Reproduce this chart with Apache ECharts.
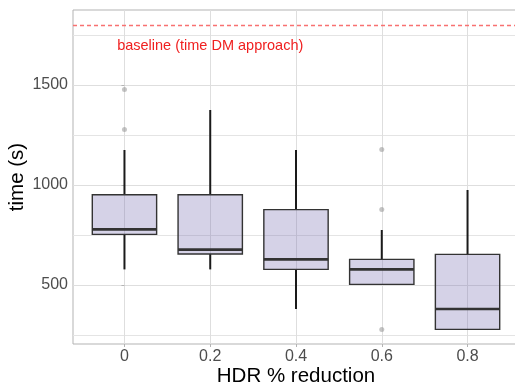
<!DOCTYPE html>
<html>
<head>
<meta charset="utf-8">
<script src="https://cdn.jsdelivr.net/npm/echarts@6/dist/echarts.min.js"></script>
<style>html,body{margin:0;padding:0;background:#fff}#c{width:515px;height:386px}</style>
</head>
<body>
<div id="c"></div>
<script>
const categories = ['0', '0.2', '0.4', '0.6', '0.8'];
// [min whisker, Q1, median, Q3, max whisker]
const boxStats = [
  [578, 753, 778, 951, 1175],
  [578, 655, 677, 951, 1375],
  [380, 578, 628, 877, 1175],
  [503, 503, 578, 628, 775],
  [278, 278, 380, 653, 975]
];
// [category index, value]
const outliers = [
  [0, 1478], [0, 1278],
  [3, 1178], [3, 878], [3, 278]
];
const baselineValue = 1800;
const baselineLabel = 'baseline (time DM approach)';
const baselineLabelPos = [1, 1695];
const yMajorTicks = [500, 1000, 1500];
const yMinorTicks = [250, 750, 1250, 1750];
const xTicks = [0, 1, 2, 3, 4];

const font = 'Liberation Sans, Arial, Helvetica, sans-serif';
const boxData = boxStats.map((s, i) => [i].concat(s));

const chart = echarts.init(document.getElementById('c'), null, {renderer: 'canvas'});
chart.setOption({
  animation: false,
  grid: {left: 73, top: 10, width: 446, height: 334, containLabel: false, outerBoundsMode: 'none', show: true, borderColor: '#b3b3b3', borderWidth: 1, backgroundColor: 'transparent'},
  xAxis: {
    type: 'value', min: -0.6, max: 4.6,
    name: 'HDR % reduction', nameLocation: 'middle', nameGap: 22, nameMoveOverlap: false,
    nameTextStyle: {fontFamily: font, fontSize: 20.5, color: '#000'},
    axisLine: {show: false},
    axisTick: {show: true, length: 3, customValues: xTicks, lineStyle: {color: '#b3b3b3'}},
    axisLabel: {customValues: xTicks, formatter: v => categories[Math.round(v)], fontFamily: font, fontSize: 16, color: '#4d4d4d', margin: 5},
    splitLine: {show: true, lineStyle: {color: '#dedede', width: 1}}
  },
  yAxis: [{
    type: 'value', min: 205, max: 1875,
    name: 'time (s)', nameLocation: 'middle', nameGap: 45, nameRotate: 90, nameMoveOverlap: false,
    nameTextStyle: {fontFamily: font, fontSize: 20.5, color: '#000'},
    axisLine: {show: false},
    axisTick: {show: true, length: 3, customValues: yMajorTicks, lineStyle: {color: '#b3b3b3'}},
    axisLabel: {customValues: yMajorTicks, formatter: v => String(v), fontFamily: font, fontSize: 16, color: '#4d4d4d', margin: 5},
    splitLine: {show: true, lineStyle: {color: '#dedede', width: 1}}
  }, {
    type: 'value', min: 205, max: 1875, position: 'left',
    axisLine: {show: false},
    axisTick: {show: false, customValues: yMinorTicks},
    axisLabel: {show: false, customValues: yMinorTicks},
    splitLine: {show: true, lineStyle: {color: '#e4e4e4', width: 1}}
  }],
  series: [{
    type: 'custom',
    data: boxData,
    z: 3,
    renderItem: function (params, api) {
      const x = api.value(0);
      const pMin = api.coord([x, api.value(1)]);
      const pQ1 = api.coord([x, api.value(2)]);
      const pMed = api.coord([x, api.value(3)]);
      const pQ3 = api.coord([x, api.value(4)]);
      const pMax = api.coord([x, api.value(5)]);
      const hw = api.size([0.75, 0])[0] / 2;
      return {
        type: 'group',
        children: [
          {type: 'line', shape: {x1: pMax[0], y1: pMax[1], x2: pQ3[0], y2: pQ3[1]}, style: {stroke: '#1a1a1a', lineWidth: 2}},
          {type: 'line', shape: {x1: pQ1[0], y1: pQ1[1], x2: pMin[0], y2: pMin[1]}, style: {stroke: '#1a1a1a', lineWidth: 2}},
          {type: 'rect', shape: {x: pQ3[0] - hw, y: pQ3[1], width: 2 * hw, height: pQ1[1] - pQ3[1]}, style: {fill: 'rgba(117,107,177,0.3)', stroke: '#333333', lineWidth: 1.4}},
          {type: 'line', shape: {x1: pMed[0] - hw, y1: pMed[1], x2: pMed[0] + hw, y2: pMed[1]}, style: {stroke: '#333333', lineWidth: 2.6}}
        ]
      };
    }
  }, {
    type: 'scatter',
    data: outliers,
    symbolSize: 5,
    itemStyle: {color: 'rgba(150,150,150,0.7)'},
    z: 4,
    markLine: {
      silent: true, symbol: 'none',
      lineStyle: {color: '#f87171', type: [4, 3], width: 1.3, opacity: 1},
      label: {show: false},
      data: [{yAxis: baselineValue}]
    },
    markPoint: {
      silent: true, symbol: 'rect', symbolSize: 0,
      label: {show: true, formatter: baselineLabel, color: '#f02020', fontFamily: font, fontSize: 14.5, position: 'inside'},
      data: [{coord: baselineLabelPos}]
    }
  }]
});
</script>
</body>
</html>
